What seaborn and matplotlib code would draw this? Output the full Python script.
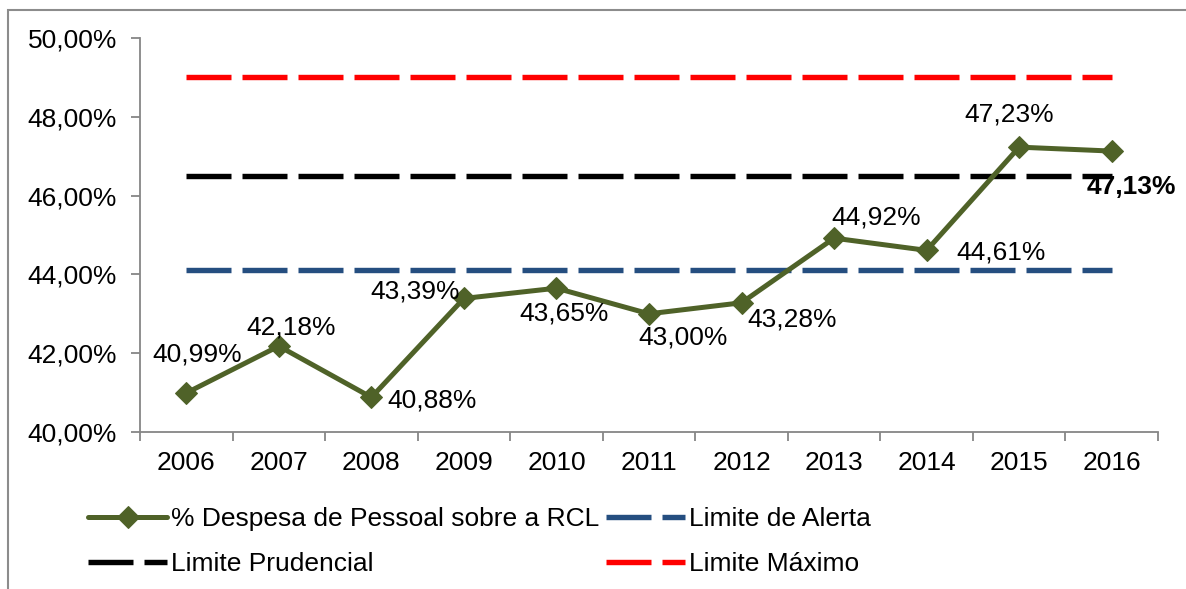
import matplotlib
matplotlib.use("Agg")
import matplotlib.pyplot as plt
import seaborn as sns
import numpy as np
import pandas as pd
from matplotlib.patches import Rectangle
from matplotlib.ticker import FixedLocator, FuncFormatter

# ---- data ----
years = ["2006", "2007", "2008", "2009", "2010", "2011", "2012", "2013", "2014", "2015", "2016"]
despesa = [40.99, 42.18, 40.88, 43.39, 43.65, 43.00, 43.28, 44.92, 44.61, 47.23, 47.13]
limite_alerta = [44.10] * 11
limite_prudencial = [46.50] * 11
limite_maximo = [49.00] * 11
y_ticks = [40, 42, 44, 46, 48, 50]
series_names = ["% Despesa de Pessoal sobre a RCL", "Limite de Alerta",
                "Limite Prudencial", "Limite Máximo"]

# label offsets (pixels from point to label centre), x right, y down
label_offsets = [(11, -38), (12, -19), (61, 3), (-49, -7), (8, 25), (34, 24),
                 (51, 17), (42, -21), (74, 2), (-10, -33), (20, 36)]

sns.set_theme(style="white")
plt.rcParams['font.family'] = ['Liberation Sans', 'DejaVu Sans']
plt.rcParams['text.color'] = 'black'
plt.rcParams['xtick.labelcolor'] = 'black'
plt.rcParams['ytick.labelcolor'] = 'black'

W, H = 1186, 589
fig = plt.figure(figsize=(W / 100, H / 100), dpi=100)
ax = fig.add_axes([140 / W, 1 - 432 / H, (1158 - 140) / W, (432 - 38) / H])

pos = np.arange(len(years))
px = 72 / 100  # points per pixel

GREEN = "#4F6228"
BLUE = "#254E80"
RED = "#FF0000"
BLACK = "#000000"

lw_lim = 5.4 * px
handles = []
for vals, col, name in [(limite_alerta, BLUE, series_names[1]),
                        (limite_prudencial, BLACK, series_names[2]),
                        (limite_maximo, RED, series_names[3])]:
    sns.lineplot(x=pos, y=vals, ax=ax, color=col, linewidth=lw_lim, label=name, legend=False)
    ln = ax.lines[-1]
    ln.set_dashes((45 / 5.4, 11 / 5.4))
    ln.set_dash_capstyle('butt')
    handles.append(ln)

sns.lineplot(x=pos, y=despesa, ax=ax, color=GREEN, linewidth=5 * px, marker='D',
             markersize=11.5, markeredgecolor=GREEN, markerfacecolor=GREEN,
             label=series_names[0], legend=False, zorder=5)
l_desp = ax.lines[-1]

# data labels
for i, v in enumerate(despesa):
    dx, dy = label_offsets[i]
    bold = (i == len(despesa) - 1)
    txt = f"{v:.2f}".replace(".", ",") + "%"
    ax.annotate(txt, (pos[i], v), xytext=(dx * px, -dy * px), textcoords='offset points',
                ha='center', va='center', fontsize=19,
                fontweight='bold' if bold else 'normal', color='black', zorder=6)

ax.set_xlim(-0.5, len(years) - 0.5)
ax.set_ylim(40, 50)
ax.set_yticks(y_ticks)
ax.yaxis.set_major_formatter(FuncFormatter(lambda v, p: f"{v:.2f}".replace(".", ",") + "%"))
ax.set_xticks(pos)
ax.set_xticklabels(years)
ax.xaxis.set_minor_locator(FixedLocator(np.arange(-0.5, len(years), 1.0)))

AXC = "#868686"
for s in ['top', 'right']:
    ax.spines[s].set_visible(False)
for s in ['left', 'bottom']:
    ax.spines[s].set_color(AXC)
    ax.spines[s].set_linewidth(1.3)

ax.tick_params(axis='y', which='major', direction='out', length=6.5, width=1.3,
               color=AXC, labelsize=19, pad=10, left=True, labelcolor='black')
ax.tick_params(axis='x', which='major', length=0, labelsize=19, pad=14, bottom=True,
               labelcolor='black')
ax.tick_params(axis='x', which='minor', direction='out', length=6.5, width=1.3,
               color=AXC, bottom=True)
ax.set_xlabel("")
ax.set_ylabel("")
ax.grid(False)

leg = fig.legend(handles=[l_desp, handles[1], handles[0], handles[2]],
                 labels=[series_names[0], series_names[2], series_names[1], series_names[3]],
                 ncol=2, loc='upper left', bbox_to_anchor=(88 / W, 1 - 507 / H),
                 frameon=False, fontsize=19, handlelength=3.0, handletextpad=0.15,
                 columnspacing=0.25, labelspacing=0.8, borderpad=0, borderaxespad=0)
for t in leg.get_texts():
    t.set_color('black')

# outer chart border
fig.patches.append(Rectangle((8 / W, -0.05), 1.1, 1 - 10 / H + 0.05, transform=fig.transFigure,
                             fill=False, edgecolor="#8C8C8C", linewidth=1.5))

fig.savefig("out.png", dpi=100)
